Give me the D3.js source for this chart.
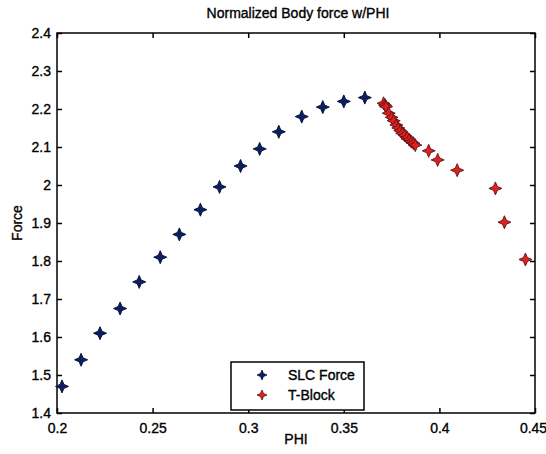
<!DOCTYPE html>
<html><head><meta charset="utf-8">
<script src="https://cdn.jsdelivr.net/npm/d3@7"></script>
<style>body{margin:0;background:#fff}svg{display:block}text{font-family:Arial,"Liberation Sans",sans-serif;fill:#000;stroke:#000;stroke-width:0.35px}</style>
</head><body>
<script>
const slcPhi   = [0.2026,0.2126,0.2225,0.2330,0.2430,0.2540,0.2640,0.2750,0.2850,0.2960,0.3060,0.3160,0.3280,0.3390,0.3500,0.3610];
const slcForce = [1.470,1.540,1.610,1.675,1.745,1.810,1.870,1.935,1.995,2.050,2.095,2.140,2.180,2.205,2.220,2.230];
const tbPhi    = [0.3708,0.3716,0.3721,0.3735,0.3750,0.3761,0.3775,0.3785,0.3795,0.3805,0.3818,0.3831,0.3842,0.3853,0.3864,0.3874,0.3944,0.3991,0.4093,0.4293,0.4340,0.4450];
const tbForce  = [2.215,2.210,2.206,2.189,2.178,2.169,2.158,2.150,2.143,2.136,2.131,2.125,2.119,2.114,2.110,2.105,2.090,2.066,2.039,1.991,1.902,1.804];
const xTicks = [0.2,0.25,0.3,0.35,0.4,0.45];
const xTickLabels = ["0.2","0.25","0.3","0.35","0.4","0.45"];
const yTicks = [1.4,1.5,1.6,1.7,1.8,1.9,2,2.1,2.2,2.3,2.4];
const yTickLabels = ["1.4","1.5","1.6","1.7","1.8","1.9","2","2.1","2.2","2.3","2.4"];
const seriesNames = ["SLC Force","T-Block"];

const W=546,H=454, L=57,R=535,T=33,B=413;
const svg=d3.select("body").append("svg").attr("width",W).attr("height",H);
const x=d3.scaleLinear().domain([0.2,0.45]).range([L,R]);
const y=d3.scaleLinear().domain([1.4,2.4]).range([B,T]);

svg.append("rect").attr("x",L).attr("y",T).attr("width",R-L).attr("height",B-T).attr("fill","#fff").attr("stroke","#000").attr("stroke-width",1.5);

const tl=5;
const fmtX=(d,i)=>xTickLabels[i], fmtY=(d,i)=>yTickLabels[i];
const gx=svg.append("g").attr("transform",`translate(0,${B})`).call(d3.axisBottom(x).tickValues(xTicks).tickFormat(fmtX).tickSizeInner(-tl).tickSizeOuter(0).tickPadding(10));
const gxt=svg.append("g").attr("transform",`translate(0,${T})`).call(d3.axisTop(x).tickValues(xTicks).tickFormat("").tickSizeInner(-tl).tickSizeOuter(0));
const gy=svg.append("g").attr("transform",`translate(${L},0)`).call(d3.axisLeft(y).tickValues(yTicks).tickFormat(fmtY).tickSizeInner(-tl).tickSizeOuter(0).tickPadding(6));
const gyr=svg.append("g").attr("transform",`translate(${R},0)`).call(d3.axisRight(y).tickValues(yTicks).tickFormat("").tickSizeInner(-tl).tickSizeOuter(0));
[gx,gxt,gy,gyr].forEach(g=>{g.select(".domain").remove();g.selectAll("line").attr("stroke","#000").attr("stroke-width",1.5);g.selectAll("text").attr("font-size",14).attr("font-family","Arial, 'Liberation Sans', sans-serif").attr("fill","#000");});
gx.selectAll("text").filter((d,i)=>i===xTicks.length-1).attr("dx",-2);

svg.append("text").attr("x",(L+R)/2+2).attr("y",18).attr("text-anchor","middle").attr("font-size",14).text("Normalized Body force w/PHI");
svg.append("text").attr("x",(L+R)/2).attr("y",444).attr("text-anchor","middle").attr("font-size",14).text("PHI");
svg.append("text").attr("transform",`translate(22,${(T+B)/2}) rotate(-90)`).attr("text-anchor","middle").attr("font-size",14).text("Force");

// 4-point star marker
function star(r){const s=r*0.3;return `M0,${-r}L${s},${-s}L${r},0L${s},${s}L0,${r}L${-s},${s}L${-r},0L${-s},${-s}Z`;}
const slc=slcPhi.map((p,i)=>({p,f:slcForce[i]}));
const tb=tbPhi.map((p,i)=>({p,f:tbForce[i]}));
svg.append("g").selectAll("path").data(slc).join("path").attr("d",star(6.5))
 .attr("transform",d=>`translate(${x(d.p)},${y(d.f)})`).attr("fill","#0c1f5c").attr("stroke","#081640").attr("stroke-width",1);
svg.append("g").selectAll("path").data(tb).join("path").attr("d",star(6.5))
 .attr("transform",d=>`translate(${x(d.p)},${y(d.f)})`).attr("fill","#e0201c").attr("stroke","#5a1418").attr("stroke-width",0.9);

// legend
const lg=svg.append("g");
lg.append("rect").attr("x",231).attr("y",362).attr("width",133).attr("height",48).attr("fill","#fff").attr("stroke","#000").attr("stroke-width",1.5);
const cols=["#0c1f5c","#e0201c"];
seriesNames.forEach((n,i)=>{
  const yy=375+i*20;
  lg.append("path").attr("d",star(5)).attr("transform",`translate(262,${yy})`).attr("fill",cols[i]).attr("stroke",i?"#5a1418":"#081640").attr("stroke-width",0.8);
  lg.append("text").attr("x",288).attr("y",yy+5).attr("font-size",14).text(n);
});
</script>
</body></html>
